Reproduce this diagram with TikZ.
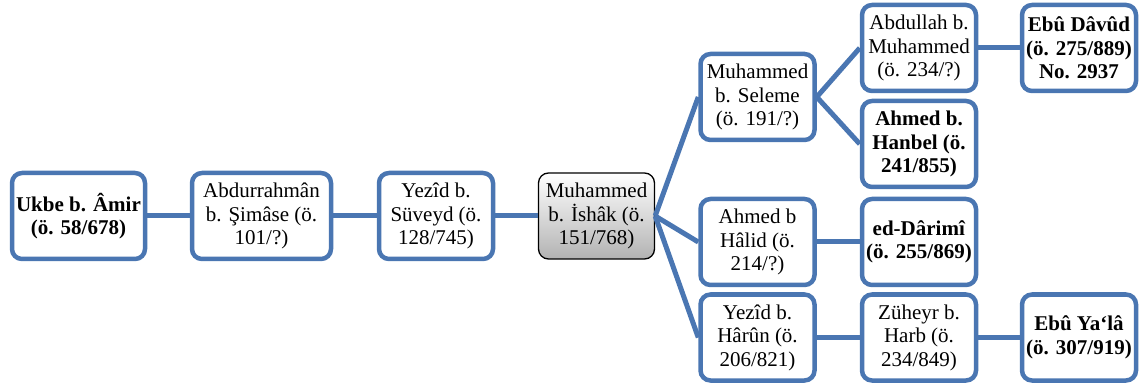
\documentclass[tikz,border=0pt]{standalone}
\usepackage{fontspec}
\setmainfont{Liberation Serif}
\begin{document}
\begin{tikzpicture}[x=1pt,y=-1pt,
  box/.style={draw=boxblue, line width=4.5pt, rounded corners=10pt, fill=white,
    minimum width=114pt, minimum height=86pt, inner sep=0pt, align=center,
    font=\fontsize{21}{23.5}\selectfont},
  gbox/.style={box, draw=black, line width=1.3pt, fill=none, top color=white, bottom color=black!30,
    minimum width=116pt, minimum height=86pt},
  conn/.style={draw=boxblue, line width=5pt}]
\definecolor{boxblue}{RGB}{74,118,178}
\useasboundingbox (0,0) rectangle (1140,387);
\node[box, minimum width=133pt] (ukbe) at (78.5,216) {\textbf{Ukbe b. Âmir}\\\textbf{(ö. 58/678)}};
\node[box, minimum width=139pt] (abdur) at (261.5,216) {Abdurrahmân\\b. Şimâse (ö.\\101/?)};
\node[box] (yezid) at (436,216) {Yezîd b.\\Süveyd (ö.\\128/745)};
\node[gbox] (ishak) at (596.5,216) {Muhammed\\b. İshâk (ö.\\151/768)};
\node[box] (seleme) at (757.5,97) {Muhammed\\b. Seleme\\(ö. 191/?)};
\node[box] (abdullah) at (919,48) {Abdullah b.\\Muhammed\\(ö. 234/?)};
\node[box] (davud) at (1079,48) {\textbf{Ebû Dâvûd}\\\textbf{(ö. 275/889)}\\\textbf{No. 2937}};
\node[box] (hanbel) at (919,144) {\textbf{Ahmed b.}\\\textbf{Hanbel (ö.}\\\textbf{241/855)}};
\node[box] (halid) at (757.5,242) {Ahmed b\\Hâlid (ö.\\214/?)};
\node[box] (darimi) at (919,242) {\textbf{ed-Dârimî}\\\textbf{(ö. 255/869)}};
\node[box] (harun) at (757.5,337.5) {Yezîd b.\\Hârûn (ö.\\206/821)};
\node[box] (zuheyr) at (919,337.5) {Züheyr b.\\Harb (ö.\\234/849)};
\node[box] (yala) at (1079,337.5) {\textbf{Ebû Ya‘lâ}\\\textbf{(ö. 307/919)}};
\draw[conn] (ukbe.east) -- (abdur.west);
\draw[conn] (abdur.east) -- (yezid.west);
\draw[conn] (yezid.east) -- (ishak.west);
\draw[conn] (ishak.east) -- (seleme.west);
\draw[conn] (ishak.east) -- (halid.west);
\draw[conn] (ishak.east) -- (harun.west);
\draw[conn] (seleme.east) -- (abdullah.west);
\draw[conn] (seleme.east) -- (hanbel.west);
\draw[conn] (abdullah.east) -- (davud.west);
\draw[conn] (halid.east) -- (darimi.west);
\draw[conn] (harun.east) -- (zuheyr.west);
\draw[conn] (zuheyr.east) -- (yala.west);
\end{tikzpicture}
\end{document}
